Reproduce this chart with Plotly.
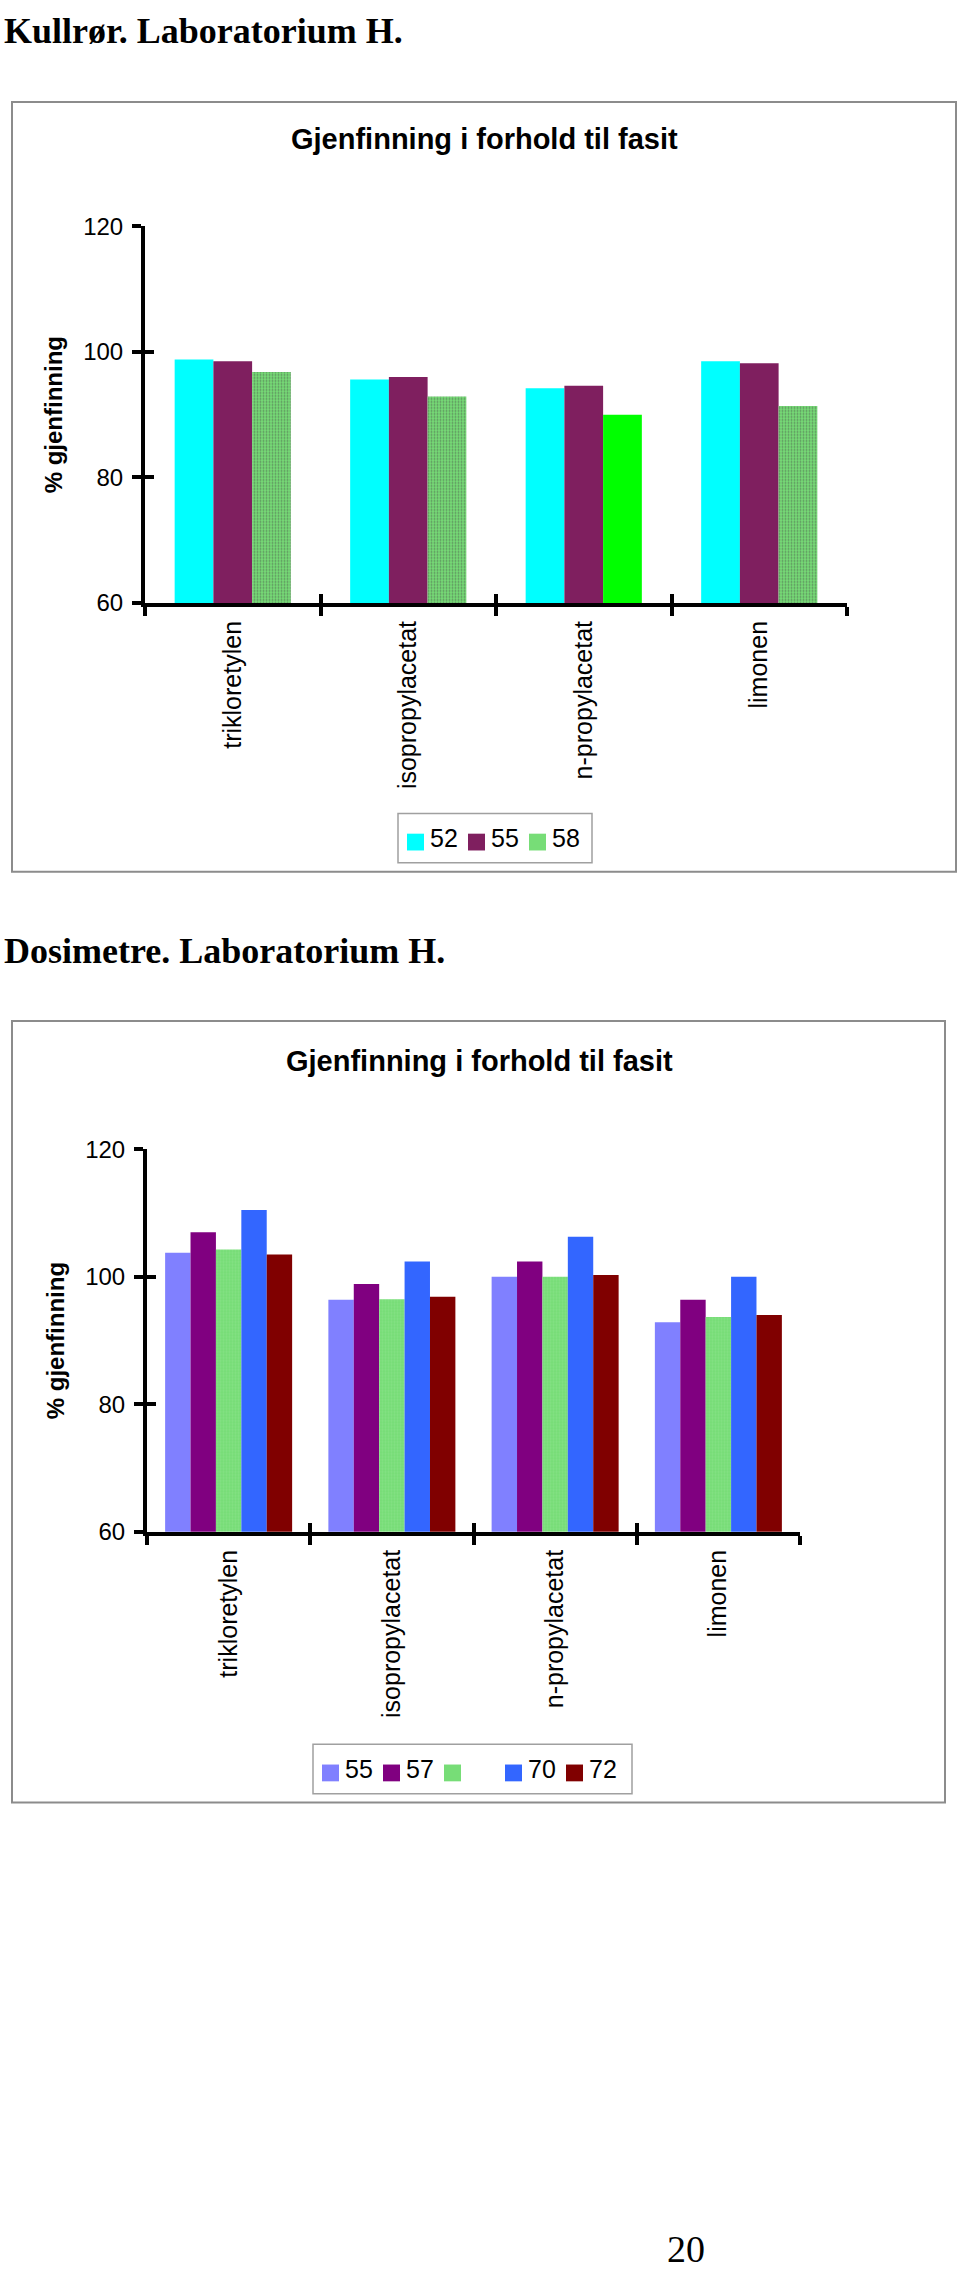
import plotly.graph_objects as go

# ---------------- data ----------------
categories = ["trikloretylen", "isopropylacetat", "n-propylacetat", "limonen"]
y_ticks = [60, 80, 100, 120]
y_tick_labels = ["60", "80", "100", "120"]

# Kullrør chart (series 52, 55, 58)
kull_names = ["52", "55", "58"]
kull_52 = [98.8, 95.6, 94.2, 98.5]
kull_55 = [98.5, 96.0, 94.6, 98.2]
kull_58 = [96.8, 92.9, 90.0, 91.4]

# Dosimetre chart (series 55, 57, unnamed, 70, 72)
dos_names = ["55", "57", "", "70", "72"]
dos_55 = [103.8, 96.4, 100.0, 92.9]
dos_57 = [107.0, 98.9, 102.4, 96.4]
dos_x = [104.3, 96.5, 100.0, 93.7]
dos_70 = [110.5, 102.4, 106.3, 100.0]
dos_72 = [103.5, 96.9, 100.3, 94.0]

# ---------------- styles ----------------
W, H = 960, 2281
LIGHT_GREEN = "#77DD77"
kull_colors = ["#00FFFF", "#7F1F5F", LIGHT_GREEN]
kull_58_point_colors = [LIGHT_GREEN, LIGHT_GREEN, "#00FF00", LIGHT_GREEN]
kull_58_point_patterns = [".", ".", "", "."]
dos_colors = ["#8080FF", "#800080", LIGHT_GREEN, "#3366FF", "#800000"]

SANS = "Liberation Sans, Arial, sans-serif"
SERIF = "Liberation Serif, Times New Roman, serif"


def px_x(x):
    return x / W


def px_y(y):
    return 1 - y / H


fig = go.Figure()

# ---- chart 1 bars ----
kull_series = [kull_52, kull_55, kull_58]
g1 = 0.662
w1 = g1 / len(kull_series)
for i, (name, vals) in enumerate(zip(kull_names, kull_series)):
    if i == 2:
        marker = dict(color=kull_58_point_colors, line=dict(width=0),
                      pattern=dict(shape=kull_58_point_patterns, fgcolor="#93E693",
                                   size=3, solidity=0.35))
    else:
        marker = dict(color=kull_colors[i], line=dict(width=0))
    fig.add_trace(go.Bar(x=categories, y=vals, name=name, marker=marker,
                         width=w1, offset=-g1 / 2 + i * w1,
                         xaxis="x", yaxis="y", showlegend=False))

# ---- chart 2 bars ----
dos_series = [dos_55, dos_57, dos_x, dos_70, dos_72]
g2 = 0.778
w2 = g2 / len(dos_series)
for i, (name, vals) in enumerate(zip(dos_names, dos_series)):
    marker = dict(color=dos_colors[i], line=dict(width=0))
    if dos_colors[i] == LIGHT_GREEN:
        marker["pattern"] = dict(shape=".", fgcolor="#93E693", size=3, solidity=0.35)
    fig.add_trace(go.Bar(x=categories, y=vals, name=name, marker=marker,
                         width=w2, offset=-g2 / 2 + i * w2,
                         xaxis="x2", yaxis="y2", showlegend=False))

# invisible traces carrying the "inside" half of the crossing tick marks
fig.add_trace(go.Scatter(x=[], y=[], xaxis="x3", yaxis="y3", showlegend=False))
fig.add_trace(go.Scatter(x=[], y=[], xaxis="x4", yaxis="y4", showlegend=False))

# ---------------- axes ----------------
plot1 = dict(x0=145, x1=847, y0=215, y1=596)
plot2 = dict(x0=147, x1=800, y0=1149, y1=1536)

axis_common = dict(showline=True, linecolor="black", linewidth=4,
                   ticks="outside", ticklen=9, tickwidth=4, tickcolor="black",
                   showgrid=False, zeroline=False,
                   tickfont=dict(family=SANS, size=24, color="black"))

xcat = dict(axis_common, type="category", categoryorder="array", categoryarray=categories,
            range=[-0.5, 3.5], tickson="boundaries", tickangle=-90, ticklabelstandoff=4,
            tickfont=dict(family=SANS, size=25, color="black"))
ylin = dict(axis_common, range=[60, 120], tickvals=y_ticks, ticktext=y_tick_labels,
            ticklabelstandoff=4,
            title=dict(text="<b>% gjenfinning</b>", font=dict(family=SANS, size=24, color="black"),
                       standoff=15))

inside_x = dict(type="linear", range=[-0.5, 3.5], tickvals=[-0.5, 0.5, 1.5, 2.5, 3.5],
                ticks="inside", ticklen=9, tickwidth=4, tickcolor="black",
                showticklabels=False, showline=False, showgrid=False, zeroline=False)
inside_y = dict(type="linear", range=[60, 120], tickvals=y_ticks,
                ticks="inside", ticklen=9, tickwidth=4, tickcolor="black",
                showticklabels=False, showline=False, showgrid=False, zeroline=False)

fig.update_layout(
    xaxis=dict(xcat, domain=[px_x(plot1["x0"]), px_x(plot1["x1"])], anchor="y"),
    yaxis=dict(ylin, domain=[px_y(plot1["y1"]), px_y(plot1["y0"])], anchor="x"),
    xaxis2=dict(xcat, domain=[px_x(plot2["x0"]), px_x(plot2["x1"])], anchor="y2"),
    yaxis2=dict(ylin, domain=[px_y(plot2["y1"]), px_y(plot2["y0"])], anchor="x2"),
    xaxis3=dict(inside_x, overlaying="x", anchor="y3", side="bottom"),
    yaxis3=dict(inside_y, overlaying="y", anchor="x3", side="left"),
    xaxis4=dict(inside_x, overlaying="x2", anchor="y4", side="bottom"),
    yaxis4=dict(inside_y, overlaying="y2", anchor="x4", side="left"),
)

# ---------------- frames, titles, legends ----------------
shapes = []
annotations = []


def frame(x0, y0, x1, y1, color="#8C8C8C", width=2):
    shapes.append(dict(type="rect", xref="paper", yref="paper",
                       x0=px_x(x0), x1=px_x(x1), y0=px_y(y1), y1=px_y(y0),
                       line=dict(color=color, width=width), fillcolor="rgba(0,0,0,0)",
                       layer="below"))


def text(x, y, s, size, family=SANS, bold=False, xanchor="left", color="black"):
    annotations.append(dict(xref="paper", yref="paper", x=px_x(x), y=px_y(y),
                            text=f"<b>{s}</b>" if bold else s, showarrow=False,
                            xanchor=xanchor, yanchor="middle",
                            font=dict(family=family, size=size, color=color)))


def legend(x0, y0, x1, y1, names, colors, step=61, sq=17):
    frame(x0, y0, x1, y1, color="#A0A0A0", width=1.5)
    cy = (y0 + y1) / 2
    sx = x0 + 9
    for name, col in zip(names, colors):
        shapes.append(dict(type="rect", xref="paper", yref="paper",
                           x0=px_x(sx), x1=px_x(sx + sq),
                           y0=px_y(cy + sq / 2 + 4), y1=px_y(cy - sq / 2 + 4),
                           line=dict(width=0), fillcolor=col))
        if name:
            text(sx + sq + 4, cy, name, 25)
        sx += step


# headings
text(2, 17, "Kullrør. Laboratorium H.", 36, family=SERIF, bold=True)
text(2, 948, "Dosimetre. Laboratorium H.", 36, family=SERIF, bold=True)
text(686, 2262, "20", 38, family=SERIF, xanchor="center")

# chart 1
frame(12, 89, 956, 868)
text(484, 126, "Gjenfinning i forhold til fasit", 29, bold=True, xanchor="center")
legend(398, 809, 592, 859, kull_names, kull_colors)

# chart 2
frame(12, 1019, 945, 1810)
text(479, 1060, "Gjenfinning i forhold til fasit", 29, bold=True, xanchor="center")
legend(313, 1751, 632, 1801, dos_names, dos_colors)

fig.update_layout(
    width=W, height=H, margin=dict(l=0, r=0, t=0, b=0),
    paper_bgcolor="white", plot_bgcolor="rgba(0,0,0,0)",
    barmode="overlay", showlegend=False,
    shapes=shapes, annotations=annotations,
    font=dict(family=SANS, color="black"),
)

# the page's default 8px body margin is removed so the figure fills the window exactly
fig.write_html("out.html", config={"displayModeBar": False},
               post_script="document.body.style.margin='0';")
